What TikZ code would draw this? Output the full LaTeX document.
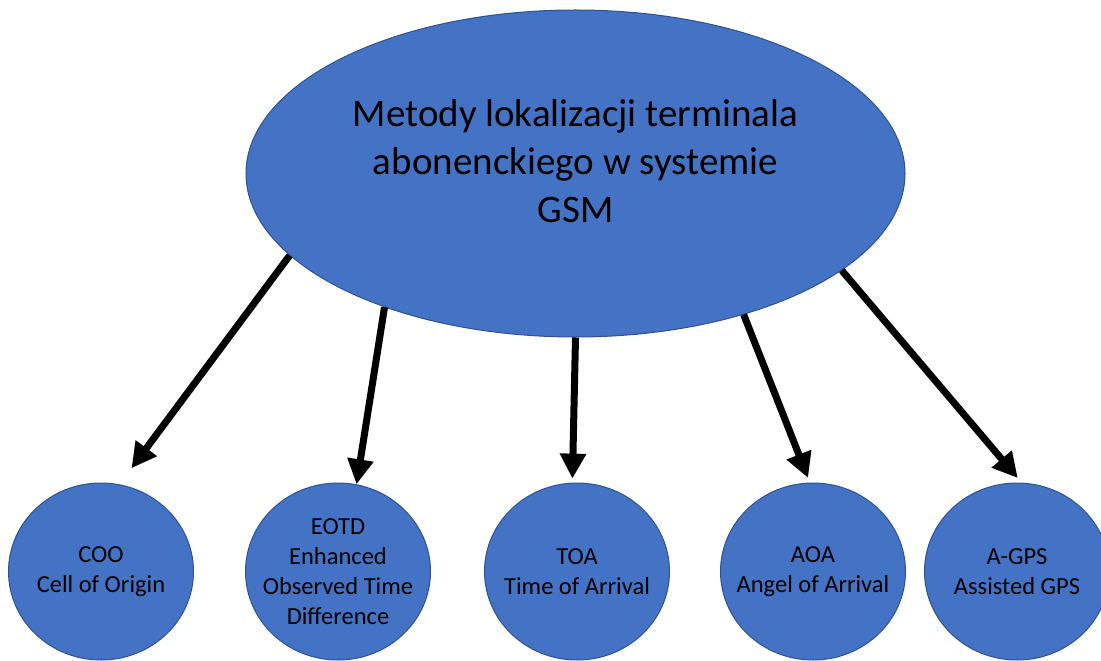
\documentclass[tikz,border=0pt]{standalone}
\usepackage{fontspec}
\setmainfont{Carlito}
\usepackage{tikz}
\usetikzlibrary{arrows.meta, shapes.geometric}

\definecolor{methodblue}{HTML}{4472C4}
\definecolor{edgeblue}{HTML}{2F528F}

\begin{document}
\begin{tikzpicture}[x=1bp, y=-1bp,
    method/.style={ellipse, draw=edgeblue, line width=1bp, fill=methodblue, minimum width=185bp, minimum height=177bp, inner sep=0pt},
    methodtext/.style={align=center, font=\fontsize{24.5bp}{30bp}\selectfont},
    link/.style={line width=7bp, -{Triangle[length=25bp, width=25bp]}}]
        \useasboundingbox (0,0) rectangle (1101,661);
        \node[ellipse, draw=edgeblue, line width=1bp, fill=methodblue, minimum width=659bp, minimum height=327bp, inner sep=0pt,
            label={[align=center, yshift=12bp, font=\fontsize{39bp}{48bp}\selectfont]center:Metody lokalizacji terminala\\abonenckiego w systemie\\GSM}] (M) at (575.5,173.5) {};
        \node[method, label={[methodtext]center:COO\\Cell of Origin}] (COO) at (101,571.5) {};
        \node[method, label={[methodtext]center:EOTD\\Enhanced\\Observed Time\\Difference}] (EOTD) at (338,571.5) {};
        \node[method, label={[methodtext]center:TOA\\Time of Arrival}] (TOA) at (577,571.5) {};
        \node[method, label={[methodtext]center:AOA\\Angel of Arrival}] (AOA) at (813,571.5) {};
        \node[method, label={[methodtext]center:A-GPS\\Assisted GPS}] (AGPS) at (1017,571.5) {};
        \draw[link, shorten >=20bp] (M.196) -- (COO.78);
        \draw[link] (M.215.5) -- (EOTD.78);
        \draw[link, shorten >=4bp] (M.270.5) -- (TOA.93);
        \draw[link, shorten >=5bp] (M.320.5) -- (AOA.92);
        \draw[link, shorten >=6bp] (M.340) -- (AGPS.87);
    \end{tikzpicture}
\end{document}
